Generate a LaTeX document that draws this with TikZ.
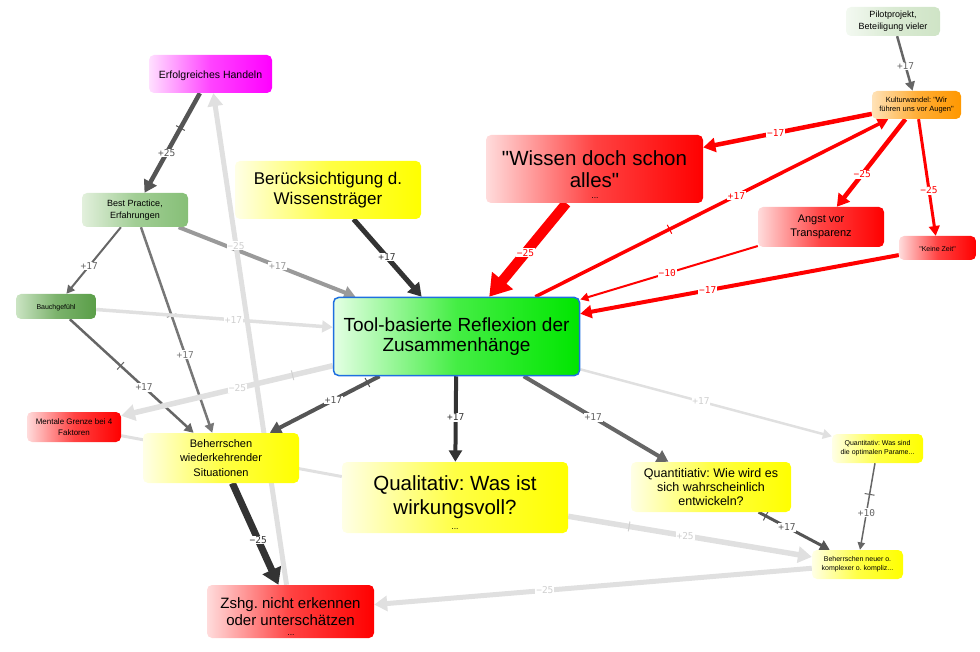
\documentclass[tikz,border=0pt]{standalone}
\usepackage{fontspec}
\setmainfont{Liberation Sans}[Ligatures=TeXOff]
\newfontfamily\lblfont{DejaVu Sans Mono}
\usetikzlibrary{arrows.meta,backgrounds,calc}
\frenchspacing
\newcommand\fsz[2]{\fontsize{#1}{#2}\selectfont}
\definecolor{redF}{HTML}{FF0000}
\definecolor{redL}{HTML}{FFDCDC}
\definecolor{yelF}{HTML}{FFFF00}
\definecolor{yelL}{HTML}{FFFFE6}
\definecolor{grnF}{HTML}{00E600}
\definecolor{grnL}{HTML}{E4FFE4}
\definecolor{magF}{HTML}{FF00FF}
\definecolor{magL}{HTML}{FFE0FF}
\definecolor{oraF}{HTML}{FF9800}
\definecolor{oraL}{HTML}{FFE2B8}
\definecolor{bpF}{HTML}{86BF77}
\definecolor{bpL}{HTML}{E2F0DC}
\definecolor{bgF}{HTML}{5A9E48}
\definecolor{bgL}{HTML}{CBE4C3}
\definecolor{plF}{HTML}{CFE4C6}
\definecolor{plL}{HTML}{F3F9F1}
\definecolor{toolB}{HTML}{1E6FE0}
\definecolor{cA}{HTML}{333333}
\definecolor{cB}{HTML}{555555}
\definecolor{cC}{HTML}{666666}
\definecolor{cD}{HTML}{777777}
\definecolor{cE}{HTML}{9A9A9A}
\definecolor{cF}{HTML}{E0E0E0}
\definecolor{cFt}{HTML}{D0D0D0}
\tikzset{
  box/.style={rounded corners=5pt, align=center, inner sep=1pt, text=black,
    execute at begin node={\rule{0pt}{1.1em}}},
  grad/.style 2 args={left color=#1, right color=#2, middle color=#2!70!#1},
  redbox/.style={box, grad={redL}{redF}},
  yelbox/.style={box, grad={yelL}{yelF}},
  conn/.style={line width=#1, -{Triangle[length=5pt 1.6, width=4pt 2.2]}},
  plainconn/.style={line width=#1},
  lbl/.style={fill=white, inner sep=0.8pt, text=#1, font=\lblfont\fsz{9.5}{10}},
  tk/.style={sloped, draw=#1, line width=1pt, inner sep=0pt, minimum width=0pt, minimum height=10pt, shape=rectangle},
  dotsnode/.style={inner sep=0pt, font=\fsz{8.5}{8.5}}
}
\begin{document}
\begin{tikzpicture}[x=1pt, y=-1pt]
\useasboundingbox (0,0) rectangle (980,652);
% nodes
\node[box, grad={plL}{plF}, minimum width=94pt, minimum height=29pt, font=\fsz{9}{11.7}] (pilot) at (893,21.5) {Pilotprojekt,\\Beteiligung vieler};
\node[box, grad={oraL}{oraF}, minimum width=89pt, minimum height=28pt, font=\fsz{7.5}{9.3}] (kult) at (916.5,105) {Kulturwandel: "Wir\\führen uns vor Augen"};
\node[redbox, minimum width=217pt, minimum height=68pt, font=\fsz{20.5}{21.5}] (wissen) at (594.5,169) {"Wissen doch schon\\alles"};
\node[dotsnode] (wissendots) at (595,198.5) {...};
\node[redbox, minimum width=126pt, minimum height=40pt, font=\fsz{11}{14.3}] (angst) at (821,227) {Angst vor\\Transparenz};
\node[redbox, minimum width=77pt, minimum height=24pt, font=\fsz{7}{9}] (keine) at (937.5,248) {"Keine Zeit"};
\node[box, grad={magL}{magF}, minimum width=123pt, minimum height=38pt, font=\fsz{10.5}{12}] (erfolg) at (210.5,74) {Erfolgreiches Handeln};
\node[box, grad={bpL}{bpF}, minimum width=106pt, minimum height=34pt, font=\fsz{9}{12.3}] (best) at (135,210) {Best Practice,\\Erfahrungen};
\node[yelbox, minimum width=186pt, minimum height=58pt, font=\fsz{17}{20}] (berueck) at (328,190) {Berücksichtigung d.\\Wissensträger};
\node[box, grad={bgL}{bgF}, minimum width=80pt, minimum height=25pt, font=\fsz{7}{9}] (bauch) at (56,306.5) {Bauchgefühl};
\node[box, grad={grnL}{grnF}, draw=toolB, line width=1.5pt, minimum width=246pt, minimum height=78pt, font=\fsz{19}{20.7}] (tool) at (456.5,336.5) {Tool-basierte Reflexion der\\Zusammenhänge};
\node[redbox, minimum width=94pt, minimum height=30pt, font=\fsz{8}{11.3}] (mentale) at (74,427) {Mentale Grenze bei 4\\Faktoren};
\node[yelbox, minimum width=156pt, minimum height=50pt, font=\fsz{11}{14.5}] (behw) at (221,458) {Beherrschen\\wiederkehrender\\Situationen};
\node[yelbox, minimum width=226pt, minimum height=71pt, font=\fsz{20.5}{23.8}] (qual) at (455,497.5) {Qualitativ: Was ist\\wirkungsvoll?};
\node[dotsnode] (qualdots) at (455,529) {...};
\node[yelbox, minimum width=160pt, minimum height=50pt, font=\fsz{12.5}{14.2}] (quantwie) at (711,487) {Quantitiativ: Wie wird es\\sich wahrscheinlich\\entwickeln?};
\node[yelbox, minimum width=91pt, minimum height=29pt, font=\fsz{7}{9}] (quantwas) at (877.5,448.5) {Quantitativ: Was sind\\die optimalen Parame...};
\node[yelbox, minimum width=91pt, minimum height=29pt, font=\fsz{7}{8.8}] (behneu) at (857.5,564.5) {Beherrschen neuer o.\\komplexer o. kompliz...};
\node[redbox, minimum width=167pt, minimum height=53pt, font=\fsz{15}{17.5}] (zshg) at (290.5,611.5) {Zshg. nicht erkennen\\oder unterschätzen};
\node[dotsnode] (zshgdots) at (291,635.5) {...};
% connectors
\begin{scope}[on background layer]
\draw[plainconn=3, cF] (mentale) -- (qual);
\draw[conn=2.5, cC] (pilot) -- (kult) node[lbl=cC, pos=.55] {+17};
\draw[conn=4.5, redF] (kult) -- (wissen) node[lbl=redF, pos=.57] {−17};
\draw[conn=10, redF] (wissen) -- (tool) node[lbl=redF, pos=.53] {−25};
\draw[conn=3.5, redF] (tool) -- (kult) node[lbl=redF, pos=.57] {+17} node[tk=redF, pos=.38] {};
\draw[conn=4.5, redF] (kult) -- (angst) node[lbl=redF, pos=.63] {−25};
\draw[conn=3, redF] (kult) -- (keine) node[lbl=redF, pos=.61] {−25};
\draw[conn=2, redF] (angst) -- (tool) node[lbl=redF, pos=.51] {−10};
\draw[conn=4, redF] (keine) -- (tool) node[lbl=redF, pos=.60] {−17};
\draw[conn=4.5, cB] (erfolg) -- (best) node[lbl=cB, pos=.60] {+25} node[tk=cB, pos=.35] {};
\draw[conn=5, cA] (berueck) -- (tool) node[lbl=cA, pos=.49] {+17};
\draw[conn=4, cE] (best) -- (tool) node[lbl=cE, pos=.56] {+17};
\draw[conn=2, cC] (best) -- (bauch) node[lbl=cC, pos=.58] {+17};
\draw[conn=2.5, cD] (best) -- (behw) node[lbl=cD, pos=.62] {+17} node[tk=cD, pos=.43] {};
\draw[conn=3.5, cF] (bauch) -- (tool) node[lbl=cFt, pos=.58] {+17};
\draw[conn=2.5, cC] (bauch) -- (behw) node[lbl=cC, pos=.60] {+17} node[tk=cC, pos=.41] {};
\draw[conn=5.5, cF] (tool) -- (mentale) node[lbl=cFt, pos=.45] {−25} node[tk=cFt, pos=.19] {};
\draw[conn=4, cB] (tool) -- (behw) node[lbl=cB, pos=.42] {+17} node[tk=cB, pos=.11] {};
\draw[conn=4, cA] (tool) -- (qual) node[lbl=cA, pos=.48] {+17};
\draw[conn=4, cC] (tool) -- (quantwie) node[lbl=cC, pos=.48] {+17};
\draw[conn=2.5, cF] (tool) -- (quantwas) node[lbl=cFt, pos=.48] {+17};
\draw[conn=1.5, cC] (quantwas) -- (behneu) node[lbl=cC, pos=.57] {+10} node[tk=cC, pos=.36] {};
\draw[conn=3, cB] (quantwie) -- (behneu) node[lbl=cB, pos=.40] {+17} node[tk=cB, pos=.10] {};
\draw[conn=5.5, cF] (qual) -- (behneu) node[lbl=cFt, pos=.48] {+25} node[tk=cFt, pos=.25] {};
\draw[conn=5, cF] (behneu) -- (zshg) node[lbl=cFt, pos=.61] {−25};
\draw[conn=7, cA] (behw) -- (zshg) node[lbl=cA, pos=.56] {−25};
\draw[conn=5, cF] (zshg) -- (erfolg) node[lbl=cFt, pos=.69] {−25};
\end{scope}
\end{tikzpicture}
\end{document}
